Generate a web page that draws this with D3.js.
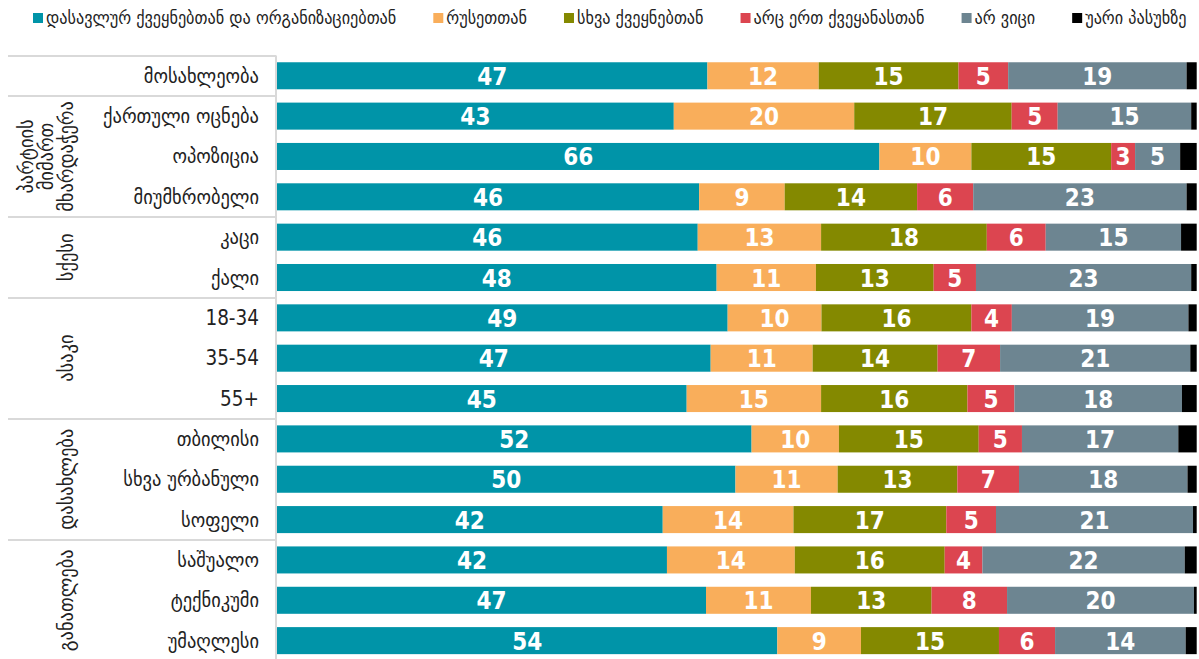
<!DOCTYPE html>
<html>
<head>
<meta charset="utf-8">
<script src="https://cdn.jsdelivr.net/npm/d3@7"></script>
<style>
	body { margin: 0; background: #fff; }
	text { font-family: 'DejaVu Sans Condensed', 'DejaVu Sans', sans-serif; font-stretch: condensed; }
	.text-legend { font-size: 18px; fill: #222; }
	.text-category { font-size: 20.5px; fill: #222; }
	.text-group { font-size: 20.5px; fill: #222; }
	.text-value { font-size: 24px; font-weight: bold; fill: #fff; }
	.line-grid { stroke: #d9d9d9; stroke-width: 2; }
</style>
</head>
<body>
<script>

// - data -

var categories = ['მოსახლეობა', 'ქართული ოცნება', 'ოპოზიცია', 'მიუმხრობელი', 'კაცი', 'ქალი',
	'18-34', '35-54', '55+', 'თბილისი', 'სხვა ურბანული', 'სოფელი', 'საშუალო', 'ტექნიკუმი', 'უმაღლესი'];

var groupLabels = [[], ['პარტიის', 'მიმართ', 'მხარდაჭერა'], ['სქესი'], ['ასაკი'], ['დასახლება'], ['განათლება']];
var groupSizes = [1, 3, 2, 3, 3, 3];

var seriesNames = ['დასავლურ ქვეყნებთან და ორგანიზაციებთან', 'რუსეთთან', 'სხვა ქვეყნებთან',
	'არც ერთ ქვეყანასთან', 'არ ვიცი', 'უარი პასუხზე'];

var west    = [46.8, 43.1, 65.5, 45.9, 45.7, 47.8, 49.0, 47.2, 44.5, 51.6, 49.8, 41.9, 42.4, 46.6, 54.4];
var russia  = [12.1, 19.6, 10.0, 9.3, 13.4, 10.8, 10.2, 11.1, 14.6, 9.5, 11.1, 14.2, 13.9, 11.4, 9.1];
var others  = [15.2, 17.1, 15.2, 14.4, 18.0, 12.8, 16.3, 13.6, 15.9, 15.2, 13.0, 16.6, 16.3, 13.1, 15.0];
var noneOf  = [5.4, 5.0, 2.6, 6.1, 6.4, 4.6, 4.4, 6.8, 5.1, 4.7, 6.7, 5.4, 4.1, 8.2, 6.1];
var dontKnow = [19.4, 14.5, 4.9, 23.2, 14.7, 23.4, 19.2, 20.7, 18.2, 17.0, 18.3, 21.4, 22.0, 20.3, 14.2];
var refused = [1.1, 0.6, 1.8, 1.1, 1.7, 0.6, 0.9, 0.7, 1.6, 2.0, 1.0, 0.4, 1.3, 0.3, 1.2];

var seriesValues = [west, russia, others, noneOf, dontKnow, refused];
var colors = ['#0094a8', '#f9ae5b', '#848900', '#dc4550', '#6d8591', '#000000'];

// - global -

var width = 1199;
var height = 659;

var svg = d3.select('body').append('svg')
	.attr('width', width)
	.attr('height', height);

var plot = { left: 277, right: 1196.7, top: 55.6, bottom: 660.8 };
var labelRight = 259;
var lineLeft = 8;

// - legend -

var legend = svg.append('g').attr('transform', 'translate(33,0)');
var lx = 0;
seriesNames.forEach(function(name, i) {
	var item = legend.append('g').attr('transform', 'translate(' + lx + ',0)');
	item.append('rect')
		.attr('x', 0).attr('y', 13)
		.attr('width', 10).attr('height', 10)
		.attr('fill', colors[i]);
	var t = item.append('text')
		.attr('class', 'text-legend')
		.attr('x', 13).attr('y', 24)
		.text(name);
	lx += 13 + t.node().getComputedTextLength() + 37;
});

// - scales -

var rows = categories.map(function(c, i) {
	var r = { category: c };
	seriesNames.forEach(function(s, j) { r[s] = seriesValues[j][i]; });
	return r;
});

var stacked = d3.stack()
	.keys(seriesNames)
	.offset(d3.stackOffsetExpand)(rows);

var x = d3.scaleLinear().domain([0, 1]).range([plot.left, plot.right]);
var y = d3.scaleBand()
	.domain(categories)
	.range([plot.top, plot.bottom])
	.paddingInner(0.33)
	.paddingOuter(0.165);

// - bars -

var layers = svg.append('g').selectAll('g')
	.data(stacked).enter()
	.append('g')
		.attr('fill', function(d, i) { return colors[i]; });

layers.selectAll('rect')
	.data(function(d) { return d; }).enter()
	.append('rect')
		.attr('x', function(d) { return x(d[0]); })
		.attr('y', function(d) { return y(d.data.category); })
		.attr('width', function(d) { return x(d[1]) - x(d[0]); })
		.attr('height', y.bandwidth());

// value labels (not for the small refusal series)
layers.filter(function(d, i) { return i < 5; })
	.selectAll('text')
	.data(function(d) { return d.map(function(p) { return { p: p, v: p.data[d.key] }; }); }).enter()
	.filter(function(d) { return d.v >= 2; })
	.append('text')
		.attr('class', 'text-value')
		.attr('text-anchor', 'middle')
		.attr('dominant-baseline', 'central')
		.attr('x', function(d) { return (x(d.p[0]) + x(d.p[1])) / 2; })
		.attr('y', function(d) { return y(d.p.data.category) + y.bandwidth() / 2 + 1; })
		.text(function(d) { return Math.round(d.v); });

// - category axis -

var step = y.step();

svg.append('g').selectAll('text')
	.data(categories).enter()
	.append('text')
		.attr('class', 'text-category')
		.attr('text-anchor', 'end')
		.attr('dominant-baseline', 'central')
		.attr('x', labelRight)
		.attr('y', function(d) { return y(d) + y.bandwidth() / 2; })
		.text(function(d) { return d; });

// group separators and labels
var gGroups = svg.append('g');
var start = 0;
var lineYs = [y(categories[0]) - (step - y.bandwidth()) / 2];

groupSizes.forEach(function(n, gi) {
	var yTop = y(categories[start]) - (step - y.bandwidth()) / 2;
	var yBot = y(categories[start + n - 1]) + y.bandwidth() + (step - y.bandwidth()) / 2;
	lineYs.push(yBot);

	var lines = groupLabels[gi];
	var cy = (yTop + yBot) / 2;
	var lineH = 20;
	lines.forEach(function(txt, li) {
		var bx = 73 - (lines.length - 1 - li) * lineH;
		gGroups.append('text')
			.attr('class', 'text-group')
			.attr('text-anchor', 'middle')
			.attr('transform', 'translate(' + bx + ',' + cy + ') rotate(-90)')
			.text(txt);
	});
	start += n;
});

gGroups.selectAll('.line-grid')
	.data(lineYs.slice(0, lineYs.length - 1)).enter()
	.append('line')
		.attr('class', 'line-grid')
		.attr('x1', lineLeft)
		.attr('x2', plot.left - 1)
		.attr('y1', function(d) { return Math.round(d); })
		.attr('y2', function(d) { return Math.round(d); });

gGroups.append('line')
	.attr('class', 'line-grid')
	.attr('x1', plot.left - 1).attr('x2', plot.left - 1)
	.attr('y1', lineYs[0]).attr('y2', height);

</script>
</body>
</html>
